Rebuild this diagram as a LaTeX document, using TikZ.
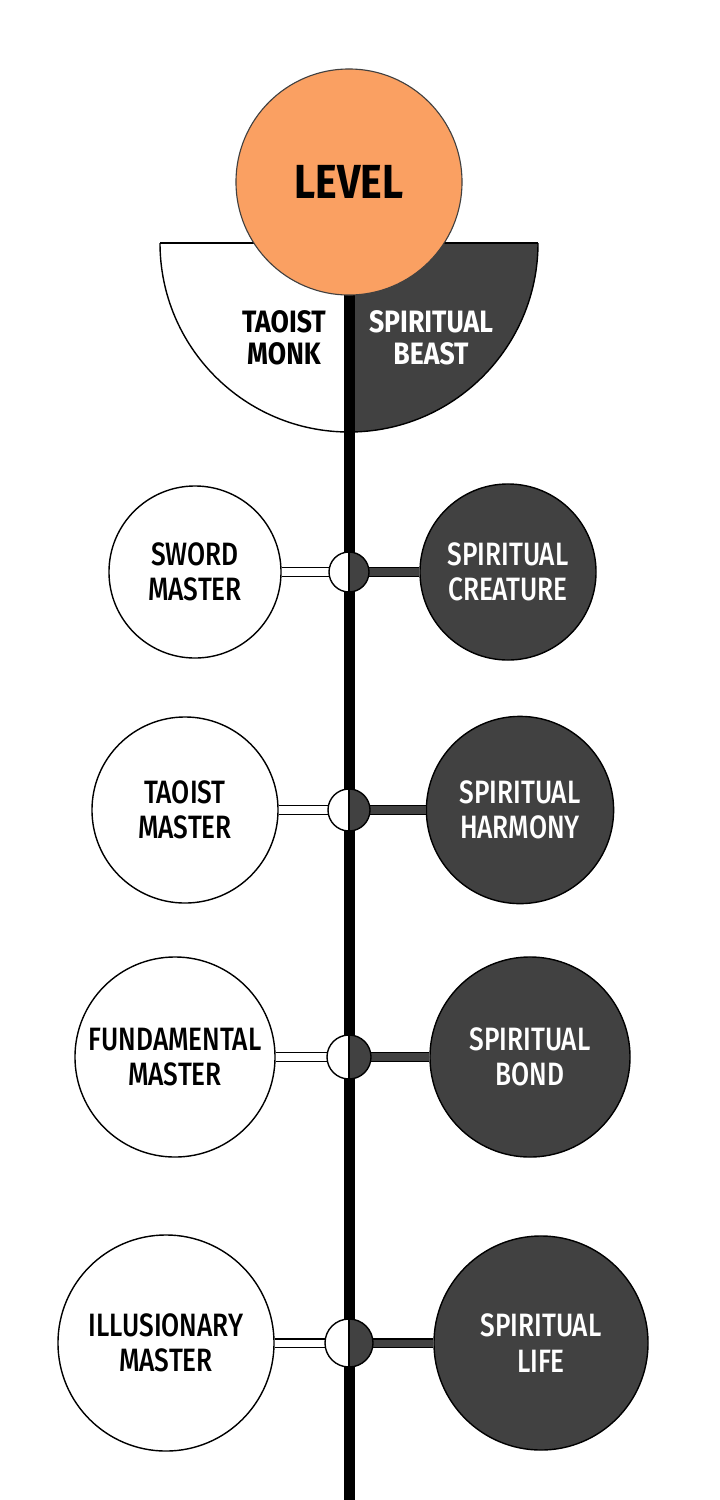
\documentclass[tikz,border=0pt]{standalone}
\usepackage{fontspec}
\setmainfont{Fira Sans}[FakeStretch=0.86]
\newfontfamily\rowfont{Fira Sans}[FakeStretch=0.81,UprightFont=* Medium]
\usetikzlibrary{calc}
\definecolor{lvlorange}{RGB}{250,160,98}
\definecolor{beastgray}{RGB}{65,65,65}
\tikzset{
  monk/.style={circle,draw,line width=1pt,fill=white,text=black,align=center,
    inner sep=0pt,font=\rowfont\fontsize{23}{25}\selectfont},
  beast/.style={monk,fill=beastgray,text=white},
  joint/.style={circle,draw,line width=1pt,fill=white,inner sep=0pt,
    path picture={\fill[beastgray] (path picture bounding box.north)
      rectangle (path picture bounding box.south east);
      \draw[line width=1pt] (path picture bounding box.north)
      -- (path picture bounding box.south);}},
  monklink/.style={draw,line width=1pt,double=white,double distance=5pt},
  beastlink/.style={monklink,double=beastgray},
  spine/.style={line width=0.275cm}
}

\begin{document}
\begin{tikzpicture}[x=0.025cm,y=-0.025cm]
        \useasboundingbox (0,0) rectangle (720,1500);
        % half disc under the level circle
        \begin{scope}
          \clip (140,243) rectangle (349,450);
          \fill[white] (349,243) circle[radius=189];
        \end{scope}
        \begin{scope}
          \clip (349,243) rectangle (560,450);
          \fill[beastgray] (349,243) circle[radius=189];
        \end{scope}
        \begin{scope}
          \clip (140,243) rectangle (560,450);
          \draw[line width=1pt] (349,243) circle[radius=189];
        \end{scope}
        \draw[line width=1pt] (160,243) -- (538,243);
        \coordinate (disctop) at (349,243);
        \coordinate (spineend) at (349,1500);
        \draw[spine] (disctop) -- (spineend);
        \node[circle,draw=black!75,line width=0.8pt,fill=lvlorange,minimum size=5.65cm,
          font=\fontsize{34}{34}\bfseries] (lvl) at (349,182) {LEVEL};
        \node[align=center,font=\fontsize{22}{23}\bfseries] (monk) at (284,338) {TAOIST\\MONK};
        \node[align=center,text=white,font=\fontsize{22}{23}\bfseries] (beast) at (431,338) {SPIRITUAL\\BEAST};

        \node[monk,minimum size=4.3cm] (lm1) at (195,572) {SWORD\\MASTER};
        \node[beast,minimum size=4.4cm] (rb1) at (508,572) {SPIRITUAL\\CREATURE};
        \node[monk,minimum size=4.65cm] (lm2) at (185,810) {TAOIST\\MASTER};
        \node[beast,minimum size=4.68cm] (rb2) at (520,810) {SPIRITUAL\\HARMONY};
        \node[monk,minimum size=5cm] (lm3) at (175,1057) {FUNDAMENTAL\\MASTER};
        \node[beast,minimum size=5cm] (rb3) at (530,1057) {SPIRITUAL\\BOND};
        \node[monk,minimum size=5.4cm] (lm4) at (166,1343) {ILLUSIONARY\\MASTER};
        \node[beast,minimum size=5.35cm] (rb4) at (541,1343) {SPIRITUAL\\LIFE};

        \draw[monklink] (lm1) -- (349,572);
        \draw[beastlink] (rb1) -- (349,572);
        \draw[monklink] (lm2) -- (349,810);
        \draw[beastlink] (rb2) -- (349,810);
        \draw[monklink] (lm3) -- (349,1057);
        \draw[beastlink] (rb3) -- (349,1057);
        \draw[monklink] (lm4) -- (349,1343);
        \draw[beastlink] (rb4) -- (349,1343);

        \node[joint,minimum size=1cm] (jn1) at (349,572) {};
        \node[joint,minimum size=1.05cm] (jn2) at (349,810) {};
        \node[joint,minimum size=1.1cm] (jn3) at (349,1057) {};
        \node[joint,minimum size=1.2cm] (jn4) at (349,1343) {};
      \end{tikzpicture}
\end{document}
